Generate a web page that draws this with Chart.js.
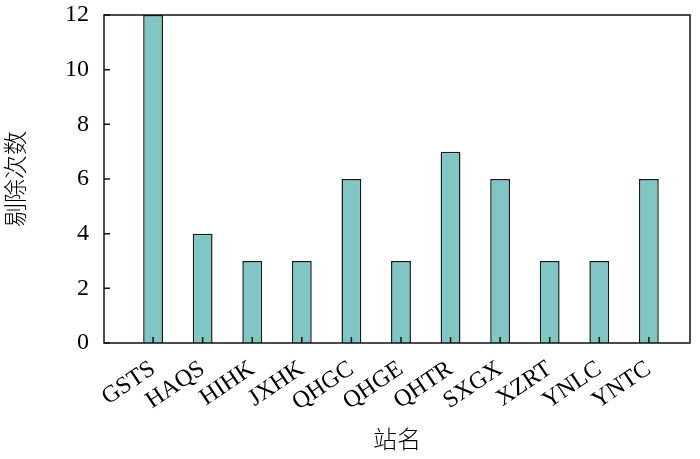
<!DOCTYPE html>
<html>
<head>
<meta charset="utf-8">
<script src="https://cdn.jsdelivr.net/npm/chart.js@4/dist/chart.umd.min.js"></script>
<style>
  body { margin: 0; background: #fff; }
  #wrap { width: 700px; height: 459px; }
</style>
</head>
<body>
<div id="wrap"><canvas id="chart" width="700" height="459"></canvas></div>
<script>
// station names and how many times each was removed
const stations = ['GSTS', 'HAQS', 'HIHK', 'JXHK', 'QHGC', 'QHGE', 'QHTR', 'SXGX', 'XZRT', 'YNLC', 'YNTC'];
const counts = [12, 4, 3, 3, 6, 3, 7, 6, 3, 3, 6];
const yTicks = [0, 2, 4, 6, 8, 10, 12];

const serif = "'Times New Roman', 'Liberation Serif', serif";
const cjk = "'Noto Sans CJK SC', sans-serif";

// box around the plot plus inward tick marks
const framePlugin = {
  id: 'frame',
  afterDatasetsDraw(chart) {
    const { ctx, chartArea: a, scales } = chart;
    ctx.save();
    ctx.strokeStyle = '#111';
    ctx.lineWidth = 1.5;
    ctx.strokeRect(a.left, a.top, a.right - a.left, a.bottom - a.top);
    ctx.beginPath();
    yTicks.forEach(v => {
      const y = scales.y.getPixelForValue(v);
      ctx.moveTo(a.left, y);
      ctx.lineTo(a.left + 6, y);
    });
    stations.forEach((_, i) => {
      const x = scales.x.getPixelForValue(i);
      ctx.moveTo(x, a.bottom);
      ctx.lineTo(x, a.bottom - 6);
    });
    ctx.stroke();
    ctx.restore();
  }
};

const ctx = document.getElementById('chart').getContext('2d');
const chart = new Chart(ctx, {
  type: 'bar',
  data: {
    datasets: [{
      data: counts.map((c, i) => ({ x: i, y: c })),
      backgroundColor: '#7fc6c4',
      borderColor: '#1a1a1a',
      borderWidth: 1.5,
      barPercentage: 0.4,
      categoryPercentage: 1
    }]
  },
  options: {
    responsive: false,
    animation: false,
    layout: { padding: { top: 15, right: 10, left: 0, bottom: 0 } },
    plugins: { legend: { display: false }, tooltip: { enabled: false } },
    scales: {
      x: {
        type: 'linear',
        offset: false,
        min: -0.99,
        max: 10.83,
        grid: { display: false, offset: false },
        border: { display: false },
        afterBuildTicks: s => { s.ticks = stations.map((_, i) => ({ value: i })); },
        afterFit: s => { s.height = 116; s.paddingLeft = 0; s.paddingRight = 0; },
        ticks: {
          autoSkip: false,
          minRotation: 34,
          maxRotation: 34,
          padding: 4,
          color: '#000',
          font: { family: serif, size: 24 },
          callback: v => stations[v] ?? ''
        },
        title: {
          display: true,
          text: '站名',
          color: '#000',
          font: { family: cjk, size: 24, weight: '300' },
          padding: { top: 6, bottom: 6 }
        }
      },
      y: {
        min: 0,
        max: 12,
        grid: { display: false },
        border: { display: false },
        afterBuildTicks: s => { s.ticks = yTicks.map(v => ({ value: v })); },
        afterFit: s => { s.width = 104; s.paddingTop = 0; s.paddingBottom = 0; },
        ticks: {
          padding: 7,
          color: '#000',
          font: { family: serif, size: 24 }
        },
        title: {
          display: true,
          text: '剔除次数',
          color: '#000',
          font: { family: cjk, size: 24, weight: '300' },
          padding: { top: 0, bottom: 12 }
        }
      }
    }
  },
  plugins: [framePlugin]
});
</script>
</body>
</html>
